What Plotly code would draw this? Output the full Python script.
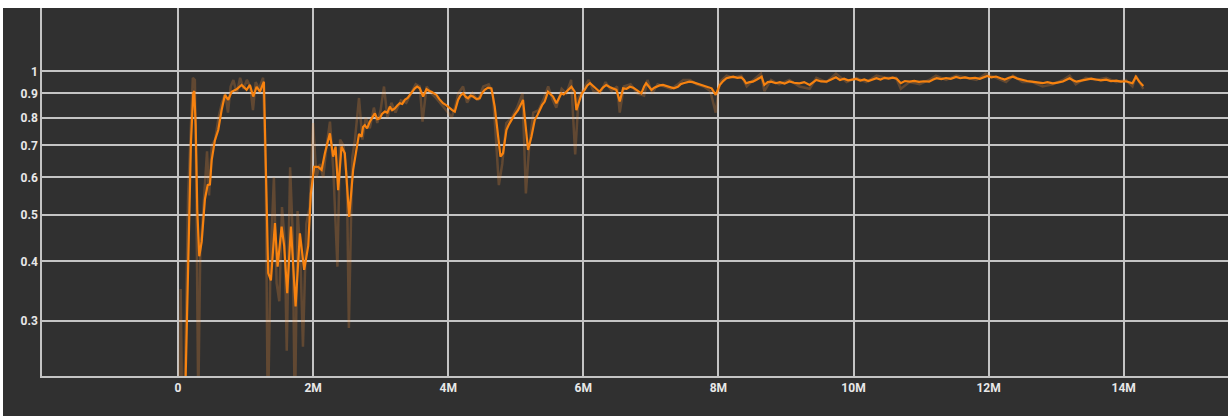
import plotly.graph_objects as go

# Smoothed metric (step in millions, value)
smooth_step_m = [
    0.0, 0.06, 0.114, 0.152, 0.192, 0.226, 0.241, 0.262, 0.286, 0.315,
    0.351, 0.399, 0.439, 0.473, 0.499, 0.547, 0.596, 0.646, 0.695, 0.744,
    0.794, 0.868, 0.942, 1.016, 1.065, 1.114, 1.164, 1.213, 1.272, 1.336,
    1.376, 1.435, 1.475, 1.534, 1.572, 1.617, 1.672, 1.741, 1.805, 1.868,
    1.928, 1.967, 2.016, 2.075, 2.126, 2.175, 2.249, 2.297, 2.333, 2.371,
    2.421, 2.470, 2.534, 2.593, 2.643, 2.68, 2.717, 2.74, 2.766, 2.80,
    2.840, 2.87, 2.914, 2.95, 2.988, 3.02, 3.062, 3.10, 3.136, 3.17,
    3.210, 3.25, 3.284, 3.32, 3.358, 3.40, 3.432, 3.47, 3.506, 3.54,
    3.580, 3.629, 3.679, 3.72, 3.753, 3.79, 3.827, 3.87, 3.924, 3.97,
    4.024, 4.06, 4.098, 4.146, 4.18, 4.220, 4.26, 4.294, 4.33, 4.368,
    4.42, 4.467, 4.50, 4.541, 4.59, 4.640, 4.689, 4.738, 4.774, 4.812,
    4.862, 4.90, 4.936, 4.98, 5.034, 5.07, 5.108, 5.148, 5.182, 5.232,
    5.281, 5.32, 5.355, 5.39, 5.429, 5.478, 5.52, 5.552, 5.602, 5.64,
    5.676, 5.71, 5.750, 5.79, 5.824, 5.873, 5.898, 5.947, 5.98,
    6.02, 6.06, 6.10, 6.15, 6.19, 6.24, 6.29, 6.34, 6.39, 6.44,
    6.49, 6.54, 6.59, 6.64, 6.69, 6.74, 6.79, 6.86, 6.90, 6.93,
    6.97, 7.01, 7.05, 7.08, 7.13, 7.18, 7.23, 7.28, 7.34, 7.40,
    7.44, 7.48, 7.53, 7.57, 7.62, 7.67, 7.72, 7.77, 7.83, 7.90,
    7.96, 8.02, 8.07, 8.12, 8.17, 8.22, 8.28, 8.34, 8.38, 8.41,
    8.46, 8.51, 8.57, 8.64, 8.68, 8.73, 8.78, 8.85, 8.91, 8.98,
    9.05, 9.12, 9.20, 9.27, 9.35, 9.40, 9.45, 9.52, 9.60, 9.67,
    9.74, 9.80, 9.86, 9.92, 9.98, 10.04, 10.10, 10.16, 10.22, 10.28,
    10.34, 10.40, 10.46, 10.52, 10.58, 10.64, 10.70, 10.76, 10.83, 10.90,
    10.97, 11.04, 11.12, 11.18, 11.23, 11.30, 11.37, 11.44, 11.52, 11.58,
    11.65, 11.72, 11.80, 11.87, 11.94, 11.98, 12.04, 12.11, 12.18, 12.24,
    12.30, 12.36, 12.43, 12.50, 12.57, 12.64, 12.72, 12.80, 12.87, 12.95,
    13.02, 13.10, 13.16, 13.20, 13.25, 13.30, 13.37, 13.44, 13.52, 13.59,
    13.66, 13.74, 13.81, 13.89, 13.96, 14.03, 14.09, 14.13, 14.18, 14.23,
    14.29,
]
smooth_value = [
    0.14, 0.17, 0.23, 0.40, 0.71, 0.90, 0.91, 0.77, 0.51, 0.41,
    0.44, 0.54, 0.578, 0.58, 0.652, 0.718, 0.754, 0.83, 0.893, 0.872,
    0.907, 0.918, 0.937, 0.915, 0.937, 0.886, 0.929, 0.907, 0.952, 0.378,
    0.365, 0.481, 0.390, 0.473, 0.431, 0.343, 0.473, 0.322, 0.458, 0.384,
    0.431, 0.555, 0.631, 0.631, 0.622, 0.674, 0.742, 0.663, 0.696, 0.564,
    0.696, 0.674, 0.496, 0.622, 0.696, 0.74, 0.730, 0.765, 0.772, 0.760,
    0.785, 0.80, 0.817, 0.795, 0.798, 0.815, 0.824, 0.82, 0.844, 0.83,
    0.837, 0.85, 0.858, 0.855, 0.872, 0.88, 0.893, 0.91, 0.922, 0.93,
    0.922, 0.886, 0.918, 0.91, 0.907, 0.90, 0.893, 0.875, 0.858, 0.85,
    0.837, 0.83, 0.824, 0.872, 0.89, 0.900, 0.885, 0.879, 0.89, 0.886,
    0.875, 0.879, 0.90, 0.915, 0.925, 0.922, 0.844, 0.730, 0.663, 0.674,
    0.754, 0.775, 0.791, 0.81, 0.830, 0.85, 0.872, 0.766, 0.685, 0.730,
    0.791, 0.81, 0.830, 0.85, 0.865, 0.907, 0.895, 0.886, 0.858, 0.88,
    0.900, 0.895, 0.907, 0.92, 0.929, 0.907, 0.830, 0.872, 0.90,
    0.915, 0.935, 0.945, 0.930, 0.922, 0.907, 0.925, 0.937, 0.928, 0.922,
    0.915, 0.865, 0.922, 0.920, 0.929, 0.925, 0.915, 0.900, 0.930, 0.945,
    0.930, 0.915, 0.925, 0.929, 0.935, 0.937, 0.932, 0.929, 0.922, 0.929,
    0.940, 0.945, 0.948, 0.952, 0.950, 0.945, 0.940, 0.937, 0.930, 0.922,
    0.893, 0.937, 0.955, 0.968, 0.972, 0.975, 0.970, 0.972, 0.960, 0.945,
    0.950, 0.952, 0.962, 0.975, 0.937, 0.950, 0.952, 0.945, 0.950, 0.943,
    0.953, 0.947, 0.944, 0.950, 0.937, 0.950, 0.960, 0.953, 0.952, 0.962,
    0.972, 0.960, 0.966, 0.958, 0.963, 0.965, 0.957, 0.962, 0.955, 0.963,
    0.968, 0.962, 0.970, 0.966, 0.971, 0.966, 0.945, 0.955, 0.952, 0.956,
    0.951, 0.954, 0.952, 0.962, 0.968, 0.964, 0.969, 0.965, 0.974, 0.968,
    0.972, 0.967, 0.970, 0.965, 0.973, 0.979, 0.972, 0.976, 0.968, 0.962,
    0.970, 0.975, 0.966, 0.960, 0.955, 0.952, 0.948, 0.945, 0.950, 0.944,
    0.948, 0.953, 0.962, 0.968, 0.958, 0.952, 0.957, 0.960, 0.966, 0.962,
    0.958, 0.961, 0.955, 0.957, 0.952, 0.954, 0.948, 0.945, 0.975, 0.952,
    0.932,
]

# Raw (unsmoothed) metric
raw_step_m = [
    0.00, 0.04, 0.07, 0.11, 0.15, 0.19, 0.22, 0.25, 0.27, 0.30,
    0.33, 0.37, 0.41, 0.43, 0.46, 0.50, 0.55, 0.60, 0.65, 0.70,
    0.74, 0.78, 0.82, 0.87, 0.92, 0.97, 1.02, 1.07, 1.11, 1.15,
    1.20, 1.26, 1.30, 1.33, 1.37, 1.42, 1.46, 1.50, 1.54, 1.58,
    1.61, 1.66, 1.70, 1.73, 1.77, 1.81, 1.85, 1.90, 1.95, 2.00,
    2.05, 2.10, 2.15, 2.20, 2.25, 2.30, 2.36, 2.40, 2.45, 2.50,
    2.53, 2.58, 2.62, 2.68, 2.73, 2.78, 2.84, 2.90, 2.95, 3.00,
    3.05, 3.10, 3.16, 3.22, 3.30, 3.38, 3.45, 3.52, 3.58, 3.62,
    3.68, 3.75, 3.82, 3.88, 3.95, 4.00, 4.05, 4.10, 4.15, 4.22,
    4.28, 4.36, 4.44, 4.52, 4.60, 4.66, 4.70, 4.75, 4.80, 4.86,
    4.94, 5.02, 5.10, 5.15, 5.20, 5.26, 5.34, 5.42, 5.48, 5.55,
    5.60, 5.68, 5.75, 5.82, 5.88, 5.93, 6.00, 6.08, 6.15, 6.25,
    6.33, 6.42, 6.50, 6.54, 6.60, 6.70, 6.80, 6.90, 6.95, 7.02,
    7.10, 7.20, 7.30, 7.40, 7.48, 7.58, 7.68, 7.78, 7.88, 7.96,
    8.02, 8.12, 8.22, 8.34, 8.42, 8.52, 8.63, 8.68, 8.78, 8.90,
    9.05, 9.20, 9.35, 9.45, 9.60, 9.74, 9.90, 10.04, 10.19, 10.34,
    10.48, 10.63, 10.70, 10.83, 10.98, 11.12, 11.22, 11.37, 11.52, 11.67,
    11.82, 11.96, 12.11, 12.26, 12.36, 12.50, 12.65, 12.80, 12.95, 13.10,
    13.20, 13.29, 13.44, 13.59, 13.74, 13.89, 14.03, 14.13, 14.18, 14.23,
    14.29,
]
raw_value = [
    0.12, 0.35, 0.15, 0.26, 0.55, 0.80, 0.97, 0.96, 0.60, 0.20,
    0.42, 0.50, 0.60, 0.68, 0.55, 0.70, 0.72, 0.80, 0.86, 0.90,
    0.82, 0.93, 0.96, 0.90, 0.97, 0.92, 0.96, 0.93, 0.83, 0.95,
    0.92, 0.97, 0.60, 0.18, 0.40, 0.60, 0.36, 0.33, 0.52, 0.44,
    0.26, 0.63, 0.45, 0.18, 0.51, 0.42, 0.265, 0.48, 0.52, 0.78,
    0.60, 0.64, 0.60, 0.70, 0.785, 0.62, 0.39, 0.72, 0.70, 0.60,
    0.29, 0.66, 0.72, 0.88, 0.72, 0.80, 0.76, 0.84, 0.78, 0.83,
    0.93, 0.80, 0.86, 0.82, 0.87, 0.86, 0.90, 0.94, 0.93, 0.785,
    0.93, 0.90, 0.88, 0.86, 0.84, 0.82, 0.80, 0.84, 0.90, 0.93,
    0.86, 0.90, 0.87, 0.93, 0.94, 0.90, 0.75, 0.578, 0.64, 0.78,
    0.80, 0.84, 0.90, 0.555, 0.70, 0.82, 0.83, 0.88, 0.93, 0.87,
    0.84, 0.92, 0.90, 0.96, 0.67, 0.88, 0.92, 0.96, 0.91, 0.90,
    0.95, 0.91, 0.93, 0.82, 0.93, 0.94, 0.90, 0.89, 0.96, 0.90,
    0.94, 0.93, 0.92, 0.94, 0.96, 0.96, 0.94, 0.93, 0.91, 0.82,
    0.95, 0.98, 0.97, 0.98, 0.93, 0.96, 0.99, 0.91, 0.96, 0.94,
    0.96, 0.93, 0.92, 0.97, 0.95, 0.99, 0.95, 0.97, 0.95, 0.98,
    0.97, 0.97, 0.92, 0.95, 0.94, 0.96, 0.98, 0.96, 0.98, 0.97,
    0.96, 0.99, 0.97, 0.95, 0.98, 0.95, 0.95, 0.93, 0.94, 0.96,
    0.98, 0.94, 0.97, 0.96, 0.97, 0.95, 0.96, 0.93, 0.98, 0.95,
    0.92,
]

x_tick_vals_m = [0, 2, 4, 6, 8, 10, 12, 14]
x_tick_text = ["0", "2M", "4M", "6M", "8M", "10M", "12M", "14M"]
y_tick_vals = [0.3, 0.4, 0.5, 0.6, 0.7, 0.8, 0.9, 1.0]
y_tick_text = ["0.3", "0.4", "0.5", "0.6", "0.7", "0.8", "0.9", "1"]

M = 1e6
BG = "#303030"
GRID = "#c4c4c4"

fig = go.Figure()
fig.add_trace(go.Scatter(
    x=[v * M for v in raw_step_m], y=raw_value, mode="lines",
    line=dict(color="rgba(255,150,60,0.24)", width=2.5),
    hoverinfo="skip", showlegend=False,
))
fig.add_trace(go.Scatter(
    x=[v * M for v in smooth_step_m], y=smooth_value, mode="lines",
    line=dict(color="#f7820f", width=2.2),
    showlegend=False,
))

W, H = 1228, 416
ml, mr, mt, mb = 42, 0, 8, 40
pw, ph = W - ml - mr, H - mt - mb

# white page strips at the top and left edges
fig.add_shape(type="rect", xref="paper", yref="paper",
              x0=-ml / pw, x1=1 + mr / pw, y0=1, y1=1 + mt / ph,
              fillcolor="white", line_width=0, layer="above")
fig.add_shape(type="rect", xref="paper", yref="paper",
              x0=-ml / pw, x1=-(ml - 3) / pw, y0=-mb / ph, y1=1 + mt / ph,
              fillcolor="white", line_width=0, layer="above")

tick_font = dict(family="Roboto", size=12, color="#e8e8e8", weight="bold")
fig.update_layout(
    width=W, height=H,
    margin=dict(l=ml, r=mr, t=mt, b=mb, pad=0),
    paper_bgcolor=BG, plot_bgcolor=BG,
    xaxis=dict(
        range=[-2.013 * M, 15.544 * M],
        tickvals=[v * M for v in x_tick_vals_m], ticktext=x_tick_text,
        showgrid=True, gridcolor=GRID, gridwidth=1.5,
        showline=True, linecolor=GRID, linewidth=1.5,
        zeroline=False, ticks="", tickfont=tick_font,
    ),
    yaxis=dict(
        type="log", range=[-0.638, 0.133],
        tickvals=y_tick_vals, ticktext=y_tick_text,
        showgrid=True, gridcolor=GRID, gridwidth=1.5,
        showline=True, linecolor=GRID, linewidth=1.5,
        zeroline=False, ticks="", tickfont=tick_font,
    ),
)

fig.write_html("out.html")
